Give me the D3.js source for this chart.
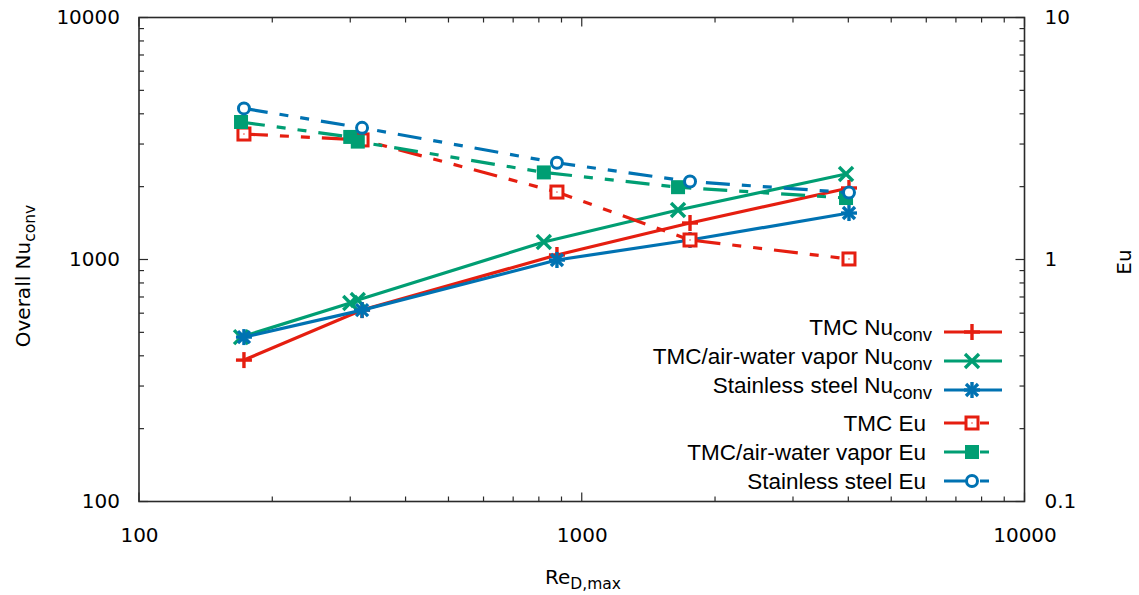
<!DOCTYPE html>
<html><head><meta charset="utf-8">
<script src="https://cdn.jsdelivr.net/npm/d3@7"></script>
<style>body{margin:0;background:#fff}svg{display:block}</style>
</head><body><svg id="c" width="1139" height="595"></svg>
<script>
// ---- data ----
const reTMC = [172.6, 319, 879, 1756, 4014];
const reAir = [170, 300, 312, 821, 1650, 3953];
const reSS  = [172.6, 319, 879, 1756, 4014];
const nuTMC = [384, 618, 1044, 1415, 1975];
const nuAir = [478, 661, 680, 1181, 1601, 2256];
const nuSS  = [478, 618, 995, 1204, 1556];
const euTMC = [3.30, 3.12, 1.90, 1.204, 1.005];
const euAir = [3.70, 3.21, 3.07, 2.29, 1.99, 1.795];
const euSS  = [4.21, 3.50, 2.51, 2.10, 1.89];
const xTicks = [100, 1000, 10000];
const yTicks = [100, 1000, 10000];
const y2Ticks = [0.1, 1, 10];
const y2TickLabels = ["0.1", "1", "10"];

const RED = "#e51e10", GREEN = "#009e73", BLUE = "#0072b2";
const series = [
  {name:"TMC Nu", sub:"conv", x:reTMC, y:nuTMC, axis:"y1", color:RED,   marker:"plus",  dash:false},
  {name:"TMC/air-water vapor Nu", sub:"conv", x:reAir, y:nuAir, axis:"y1", color:GREEN, marker:"cross", dash:false},
  {name:"Stainless steel Nu", sub:"conv", x:reSS, y:nuSS, axis:"y1", color:BLUE,  marker:"star",  dash:false},
  {name:"TMC Eu", sub:null, x:reTMC, y:euTMC, axis:"y2", color:RED,   marker:"osquare", dash:true},
  {name:"TMC/air-water vapor Eu", sub:null, x:reAir, y:euAir, axis:"y2", color:GREEN, marker:"fsquare", dash:true},
  {name:"Stainless steel Eu", sub:null, x:reSS, y:euSS, axis:"y2", color:BLUE,  marker:"ocircle", dash:true}
];

// ---- layout ----
const L = 139, R = 1024.5, T = 17.5, B = 501.5;
const svg = d3.select("#c");
svg.append("rect").attr("width",1139).attr("height",595).attr("fill","#fff");
const x = d3.scaleLog().domain([100,10000]).range([L,R]);
const y1 = d3.scaleLog().domain([100,10000]).range([B,T]);
const y2 = d3.scaleLog().domain([0.1,10]).range([B,T]);
const AX = "#2a2a2a";
const tickFont = "'DejaVu Sans', sans-serif";
const TFS = 20;

function minors(lo, hi){ const a=[]; for(let d=lo; d<hi; d*=10) for(let k=2;k<=9;k++) a.push(d*k); return a; }
const MAJ = 9, MIN = 5;

// bottom x axis labels
const gx = svg.append("g").attr("transform",`translate(0,${B})`)
  .call(d3.axisBottom(x).tickValues(xTicks).tickFormat(d3.format("d")).tickSize(0).tickPadding(0));
gx.select(".domain").remove();
gx.selectAll("text").attr("font-family",tickFont).attr("font-size",TFS).attr("fill","#000").attr("dy",null).attr("y",40);

const tg = svg.append("g").attr("stroke",AX).attr("stroke-width",1.2);
xTicks.forEach(v=>{
  tg.append("line").attr("x1",x(v)).attr("x2",x(v)).attr("y1",B).attr("y2",B-MAJ);
  tg.append("line").attr("x1",x(v)).attr("x2",x(v)).attr("y1",T).attr("y2",T+MAJ);
});
minors(100,10000).forEach(v=>{
  tg.append("line").attr("x1",x(v)).attr("x2",x(v)).attr("y1",B).attr("y2",B-MIN);
  tg.append("line").attr("x1",x(v)).attr("x2",x(v)).attr("y1",T).attr("y2",T+MIN);
});
// left y
const gy = svg.append("g").attr("transform",`translate(${L},0)`)
  .call(d3.axisLeft(y1).tickValues(yTicks).tickFormat(d3.format("d")).tickSize(0).tickPadding(19));
gy.select(".domain").remove();
gy.selectAll("text").attr("font-family",tickFont).attr("font-size",TFS).attr("fill","#000");
yTicks.forEach(v=> tg.append("line").attr("x1",L).attr("x2",L+MAJ).attr("y1",y1(v)).attr("y2",y1(v)));
minors(100,10000).forEach(v=> tg.append("line").attr("x1",L).attr("x2",L+MIN).attr("y1",y1(v)).attr("y2",y1(v)));
// right y2
const gy2 = svg.append("g").attr("transform",`translate(${R},0)`)
  .call(d3.axisRight(y2).tickValues(y2Ticks).tickFormat((d,i)=>y2TickLabels[i]).tickSize(0).tickPadding(20));
gy2.select(".domain").remove();
gy2.selectAll("text").attr("font-family",tickFont).attr("font-size",TFS).attr("fill","#000");
y2Ticks.forEach(v=> tg.append("line").attr("x1",R).attr("x2",R-MAJ).attr("y1",y2(v)).attr("y2",y2(v)));
minors(0.1,10).forEach(v=> tg.append("line").attr("x1",R).attr("x2",R-MIN).attr("y1",y2(v)).attr("y2",y2(v)));

// frame
svg.append("rect").attr("x",L).attr("y",T).attr("width",R-L).attr("height",B-T)
  .attr("fill","none").attr("stroke",AX).attr("stroke-width",1.6);

// axis labels
const yl = svg.append("text").attr("transform","translate(30,276) rotate(-90)")
  .attr("text-anchor","middle").attr("font-family",tickFont).attr("font-size",TFS);
yl.append("tspan").text("Overall Nu");
yl.append("tspan").attr("font-size",15.5).attr("dy",5).text("conv");
const xl = svg.append("text").attr("x",545).attr("y",584)
  .attr("font-family",tickFont).attr("font-size",TFS);
xl.append("tspan").text("Re");
xl.append("tspan").attr("font-size",15.5).attr("dy",5).text("D,max");
svg.append("text").attr("transform","translate(1131,262) rotate(-90)")
  .attr("text-anchor","middle").attr("font-family",tickFont).attr("font-size",TFS).text("Eu");

// markers
function drawMarker(g, m, cx, cy, color){
  const s = 8;
  if(m==="plus"||m==="star"){
    g.append("line").attr("x1",cx-s).attr("x2",cx+s).attr("y1",cy).attr("y2",cy).attr("stroke",color).attr("stroke-width",3.4);
    g.append("line").attr("x1",cx).attr("x2",cx).attr("y1",cy-s).attr("y2",cy+s).attr("stroke",color).attr("stroke-width",3.4);
  }
  if(m==="cross"||m==="star"){
    const c = m==="star"?6:7;
    g.append("line").attr("x1",cx-c).attr("x2",cx+c).attr("y1",cy-c).attr("y2",cy+c).attr("stroke",color).attr("stroke-width",3.4);
    g.append("line").attr("x1",cx-c).attr("x2",cx+c).attr("y1",cy+c).attr("y2",cy-c).attr("stroke",color).attr("stroke-width",3.4);
  }
  if(m==="osquare"){
    g.append("rect").attr("x",cx-6).attr("y",cy-6).attr("width",12).attr("height",12)
      .attr("fill","#fff").attr("stroke",color).attr("stroke-width",3);
    g.append("rect").attr("x",cx-0.6).attr("y",cy-0.6).attr("width",1.2).attr("height",1.2).attr("fill",color);
  }
  if(m==="fsquare"){
    g.append("rect").attr("x",cx-7).attr("y",cy-7).attr("width",14).attr("height",14).attr("fill",color);
  }
  if(m==="ocircle"){
    g.append("circle").attr("cx",cx).attr("cy",cy).attr("r",5.5)
      .attr("fill","#fff").attr("stroke",color).attr("stroke-width",3);
  }
}
const DASH = "24,12,9,12,9,12";

// plot series
series.forEach(s=>{
  const ys = s.axis==="y1"? y1 : y2;
  const pts = s.x.map((v,i)=>[x(v), ys(s.y[i])]);
  const g = svg.append("g");
  g.append("path").attr("d", d3.line()(pts)).attr("fill","none").attr("stroke",s.color)
    .attr("stroke-width",3.2).attr("stroke-dasharray", s.dash?DASH:null);
  pts.forEach(p=>drawMarker(g, s.marker, p[0], p[1], s.color));
});

// legend
const rowY = [332, 361, 390, 423, 452, 481];
const legFont = "'Liberation Sans', Arial, sans-serif";
series.forEach((s,i)=>{
  const g = svg.append("g");
  const yy = rowY[i];
  const t = g.append("text").attr("text-anchor","end").attr("font-family",legFont).attr("font-size",22.5);
  if(s.sub){
    t.attr("x",932).attr("y",yy+3);
    t.append("tspan").text(s.name);
    t.append("tspan").attr("font-size",18.5).attr("dy",6).text(s.sub);
  } else {
    t.attr("x",926).attr("y",yy+8).text(s.name);
  }
  g.append("path").attr("d", d3.line()([[944,yy],[s.dash?992:1002,yy]])).attr("fill","none").attr("stroke",s.color)
    .attr("stroke-width",3.2).attr("stroke-dasharray", s.dash?DASH:null);
  drawMarker(g, s.marker, 972, yy, s.color);
});
</script></body></html>
